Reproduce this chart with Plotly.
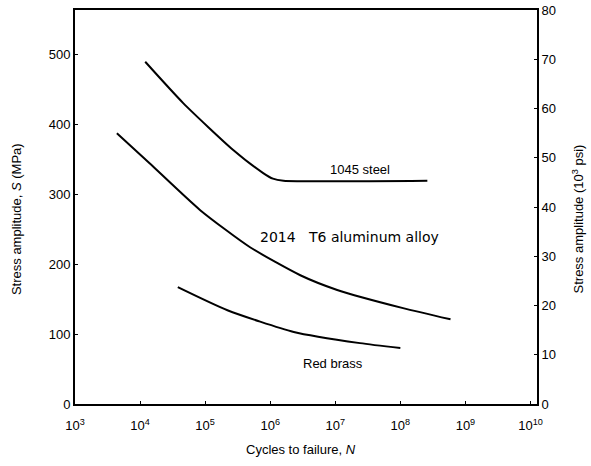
import plotly.graph_objects as go

# Cycles to failure (N) and stress amplitude (MPa)
steel_N = [1.2e4, 4.6e4, 2.7e5, 7.8e5, 1.1e6, 1.6e6, 2.6e8]
steel_S = [489, 430, 363, 330, 322, 319, 319]

alu_N = [4.4e3, 1.4e4, 8.4e4, 4.9e5, 2.9e6, 1.07e7, 1.1e8, 5.9e8]
alu_S = [387, 344, 277, 224, 184, 163, 137, 121]

brass_N = [3.8e4, 2.2e5, 2.3e6, 2.4e7, 1.0e8]
brass_S = [167, 134, 103, 87, 80]

x_tickvals = [1e3, 1e4, 1e5, 1e6, 1e7, 1e8, 1e9, 1e10]
x_ticktext = ["10<sup>3</sup>", "10<sup>4</sup>", "10<sup>5</sup>", "10<sup>6</sup>",
              "10<sup>7</sup>", "10<sup>8</sup>", "10<sup>9</sup>", "10<sup>10</sup>"]
left_ticks = [0, 100, 200, 300, 400, 500]
right_ticks = [0, 10, 20, 30, 40, 50, 60, 70, 80]

series_labels = ["1045 steel", "2014&nbsp;&nbsp;&nbsp;T6 aluminum alloy", "Red brass"]

font = dict(family="Liberation Sans, Arial, sans-serif", size=13, color="black")
wide_font = dict(family="DejaVu Sans, sans-serif", size=14, color="black")

fig = go.Figure()
for xs, ys in [(steel_N, steel_S), (alu_N, alu_S), (brass_N, brass_S)]:
    fig.add_trace(go.Scatter(x=xs, y=ys, mode="lines",
                             line=dict(color="black", width=2, shape="spline", smoothing=0.6),
                             showlegend=False, hoverinfo="skip"))
# invisible trace to activate the right axis
fig.add_trace(go.Scatter(x=[1e3], y=[0], yaxis="y2", mode="markers",
                         marker=dict(opacity=0), showlegend=False, hoverinfo="skip"))

fig.update_layout(
    width=591, height=466,
    margin=dict(l=75, r=54, t=10, b=62, autoexpand=False),
    paper_bgcolor="white", plot_bgcolor="white",
    font=font,
    xaxis=dict(type="log", range=[3, 10.1], tickvals=x_tickvals, ticktext=x_ticktext,
               showgrid=False, zeroline=False, showline=True, linecolor="black", linewidth=1.5,
               mirror=True, ticks="inside", ticklen=3, tickcolor="black",
               ticklabelstandoff=9, automargin=False),
    yaxis=dict(range=[0, 563], tickvals=left_ticks, showgrid=False, zeroline=False,
               showline=True, linecolor="black", linewidth=2, ticks="inside", ticklen=3,
               tickcolor="black", automargin=False),
    yaxis2=dict(range=[0, 80], tickvals=right_ticks, overlaying="y", side="right",
                showgrid=False, zeroline=False, showline=True, linecolor="black", linewidth=2,
                ticks="inside", ticklen=3, tickcolor="black", automargin=False),
    annotations=[
        dict(text="Stress amplitude, <i>S</i> (MPa)", xref="paper", yref="paper",
             x=-0.125, y=0.47, xanchor="center", yanchor="middle", textangle=-90,
             showarrow=False, font=font),
        dict(text="Stress amplitude (10<sup>3</sup> psi)", xref="paper", yref="paper",
             x=1.088, y=0.47, xanchor="center", yanchor="middle", textangle=-90,
             showarrow=False, font=font),
        dict(text="Cycles to failure, <i>N</i>", xref="paper", yref="paper",
             x=0.49, y=-0.115, xanchor="center", yanchor="middle", showarrow=False, font=font),
        dict(text=series_labels[0], x=7.38, y=335, xref="x", yref="y", showarrow=False, font=font),
        dict(text=series_labels[1], x=7.22, y=238, xref="x", yref="y", showarrow=False,
             font=wide_font),
        dict(text=series_labels[2], x=6.97, y=58, xref="x", yref="y", showarrow=False, font=font),
    ],
)

fig.write_html("out.html", post_script="document.body.style.margin='0';",
               config={"displayModeBar": False})
